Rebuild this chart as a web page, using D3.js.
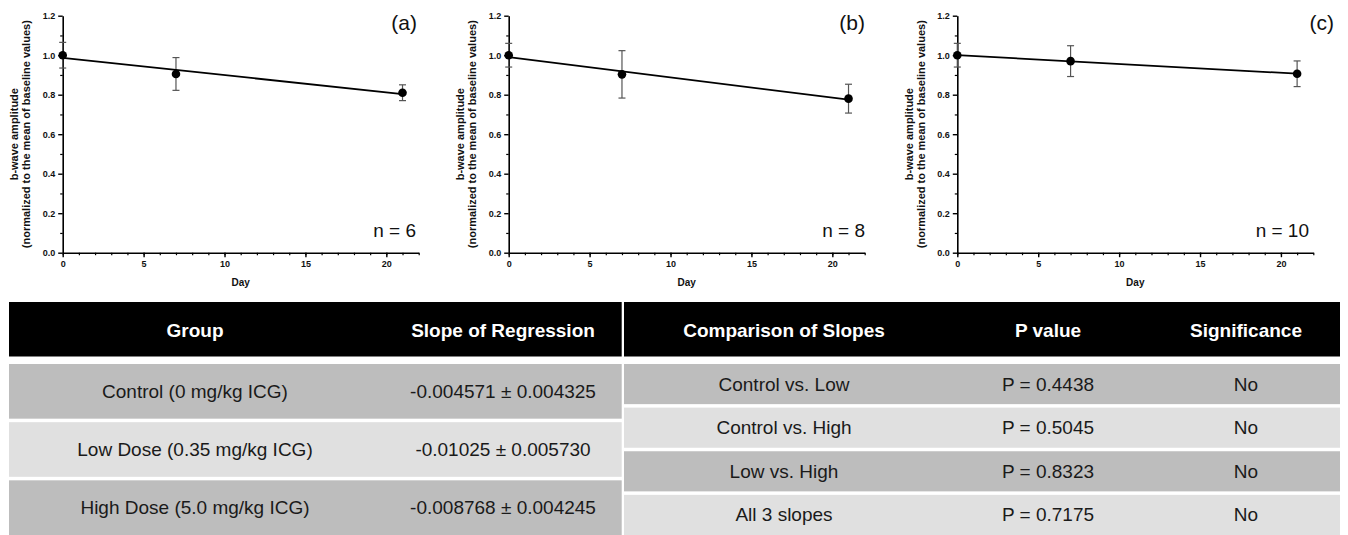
<!DOCTYPE html>
<html>
<head>
<meta charset="utf-8">
<script src="https://cdn.jsdelivr.net/npm/d3@7"></script>
<style>
  body { margin: 0; background: #fff; }
  svg { display: block; font-family: Arial, "Liberation Sans", sans-serif; }
</style>
</head>
<body>
<div id="figure"></div>
<script>
// b-wave amplitude over time, three dose groups + summary tables

const days = [0, 7, 21];
const panelTags = ["(a)", "(b)", "(c)"];
const sampleSizes = ["n = 6", "n = 8", "n = 10"];

const meanA = [1.000, 0.905, 0.810];
const errA = [0.065, 0.083, 0.040];
const meanB = [1.000, 0.903, 0.780];
const errB = [0.060, 0.120, 0.073];
const meanC = [1.000, 0.970, 0.906];
const errC = [0.060, 0.078, 0.065];

const xTicks = [0, 5, 10, 15, 20];
const yTicks = [0, 0.2, 0.4, 0.6, 0.8, 1.0, 1.2];
const xMax = 22;
const yMax = 1.2;

const leftHeaders = ["Group", "Slope of Regression"];
const groupNames = ["Control (0 mg/kg ICG)", "Low Dose (0.35 mg/kg ICG)", "High Dose (5.0 mg/kg ICG)"];
const slopeTexts = ["-0.004571 \u00b1 0.004325", "-0.01025 \u00b1 0.005730", "-0.008768 \u00b1 0.004245"];

const rightHeaders = ["Comparison of Slopes", "P value", "Significance"];
const comparisons = ["Control vs. Low", "Control vs. High", "Low vs. High", "All 3 slopes"];
const pValues = ["P = 0.4438", "P = 0.5045", "P = 0.8323", "P = 0.7175"];
const significance = ["No", "No", "No", "No"];

const series = [
    { mean: meanA, err: errA },
    { mean: meanB, err: errB },
    { mean: meanC, err: errC }
];

// panel placement (absolute px)
const panels = [
    { left: 62.7, tagX: 417, nX: 416 },
    { left: 508.7, tagX: 865, nX: 865 },
    { left: 957.3, tagX: 1334, nX: 1309 }
];
const plotTop = 15.7;
const plotW = 356;
const plotH = 237;

const svg = d3.select("#figure")
    .append("svg")
    .attr("width", 1348)
    .attr("height", 535);

function linearFit(xs, ys) {
    const mx = d3.mean(xs), my = d3.mean(ys);
    let sxy = 0, sxx = 0;
    xs.forEach((xv, i) => {
        sxy += (xv - mx) * (ys[i] - my);
        sxx += (xv - mx) * (xv - mx);
    });
    const slope = sxy / sxx;
    return { slope, intercept: my - slope * mx };
}

panels.forEach((p, i) => {
    const g = svg.append("g")
        .attr("transform", `translate(${p.left},${plotTop})`);

    const x = d3.scaleLinear().domain([0, xMax]).range([0, plotW]);
    const y = d3.scaleLinear().domain([0, yMax]).range([plotH, 0]);

    // minor ticks
    g.append("g")
        .attr("transform", `translate(0,${plotH})`)
        .call(d3.axisBottom(x).tickValues(d3.range(0, xMax + 1)).tickSize(2.5).tickSizeOuter(0).tickFormat(""))
        .call(a => a.select(".domain").remove())
        .selectAll("line").attr("stroke-width", 1.2);

    g.append("g")
        .call(d3.axisLeft(y).tickValues(d3.range(0.1, yMax, 0.2)).tickSize(2.5).tickSizeOuter(0).tickFormat(""))
        .call(a => a.select(".domain").remove())
        .selectAll("line").attr("stroke-width", 1.2);

    // major axes
    const xAxis = g.append("g")
        .attr("transform", `translate(0,${plotH})`)
        .call(d3.axisBottom(x).tickValues(xTicks).tickSize(4.5).tickSizeOuter(0).tickPadding(3).tickFormat(d3.format("d")));

    const yAxis = g.append("g")
        .call(d3.axisLeft(y).tickValues(yTicks).tickSize(4.5).tickSizeOuter(0).tickPadding(3).tickFormat(d3.format(".1f")));

    [xAxis, yAxis].forEach(a => {
        a.attr("font-family", null).attr("font-size", null);
        a.select(".domain").attr("stroke-width", 1.6);
        a.selectAll(".tick line").attr("stroke-width", 1.4);
        a.selectAll("text")
            .attr("font-size", "9px")
            .attr("font-weight", "bold")
            .attr("fill", "#111");
    });

    // axis titles
    const yLabel = g.append("text")
        .attr("transform", `translate(0,${plotH / 2}) rotate(-90)`)
        .attr("text-anchor", "middle")
        .attr("font-size", "11px")
        .attr("font-weight", "bold")
        .attr("fill", "#111");
    yLabel.append("tspan").attr("x", 0).attr("y", -48.7)
        .attr("dominant-baseline", "central").text("b-wave amplitude");
    yLabel.append("tspan").attr("x", 0).attr("y", -36.7)
        .attr("dominant-baseline", "central").text("(normalized to the mean of baseline values)");

    g.append("text")
        .attr("x", plotW / 2)
        .attr("y", 267.3)
        .attr("text-anchor", "middle")
        .attr("dominant-baseline", "central")
        .attr("font-size", "10px")
        .attr("font-weight", "bold")
        .attr("fill", "#111")
        .text("Day");

    const s = series[i];

    // error bars
    const eb = g.append("g").attr("stroke", "#555").attr("stroke-width", 1.2);
    days.forEach((d, j) => {
        const lo = y(s.mean[j] - s.err[j]), hi = y(s.mean[j] + s.err[j]);
        eb.append("line").attr("x1", x(d)).attr("x2", x(d)).attr("y1", lo).attr("y2", hi);
        eb.append("line").attr("x1", x(d) - 3.5).attr("x2", x(d) + 3.5).attr("y1", lo).attr("y2", lo);
        eb.append("line").attr("x1", x(d) - 3.5).attr("x2", x(d) + 3.5).attr("y1", hi).attr("y2", hi);
    });

    // regression line
    const fit = linearFit(days, s.mean);
    const ends = [days[0], days[days.length - 1]];
    g.append("path")
        .datum(ends)
        .attr("fill", "none")
        .attr("stroke", "#000")
        .attr("stroke-width", 1.8)
        .attr("d", d3.line().x(d => x(d)).y(d => y(fit.intercept + fit.slope * d)));

    // means
    g.selectAll("circle.pt")
        .data(days)
        .join("circle")
        .attr("class", "pt")
        .attr("cx", d => x(d))
        .attr("cy", (d, j) => y(s.mean[j]))
        .attr("r", 4.3)
        .attr("fill", "#000");

    // labels
    svg.append("text")
        .attr("x", p.tagX)
        .attr("y", 30)
        .attr("text-anchor", "end")
        .attr("font-size", "21px")
        .attr("fill", "#111")
        .text(panelTags[i]);

    svg.append("text")
        .attr("x", p.nX)
        .attr("y", 237)
        .attr("text-anchor", "end")
        .attr("font-size", "19px")
        .attr("fill", "#111")
        .text(sampleSizes[i]);
});

// Tables
const rowFills = ["#bdbdbd", "#e0e0e0"];

function drawTable(x0, x1, headers, columns, centers) {
    const t = svg.append("g");
    t.append("rect")
        .attr("x", x0).attr("y", 302)
        .attr("width", x1 - x0).attr("height", 54.5)
        .attr("fill", "#000");

    t.selectAll("text.hd")
        .data(headers)
        .join("text")
        .attr("class", "hd")
        .attr("x", (d, i) => centers[i])
        .attr("y", 330)
        .attr("text-anchor", "middle")
        .attr("dominant-baseline", "central")
        .attr("font-size", "19px")
        .attr("font-weight", "bold")
        .attr("fill", "#fff")
        .text(d => d);

    const nRows = columns[0].length;
    const band = d3.scaleBand()
        .domain(d3.range(nRows))
        .range([364, 535])
        .paddingInner(nRows === 3 ? 0.06 : 0.08);

    band.domain().forEach(r => {
        t.append("rect")
            .attr("x", x0).attr("y", band(r))
            .attr("width", x1 - x0).attr("height", band.bandwidth())
            .attr("fill", rowFills[r % 2]);
        columns.forEach((col, c) => {
            t.append("text")
                .attr("x", centers[c])
                .attr("y", band(r) + band.bandwidth() / 2)
                .attr("text-anchor", "middle")
                .attr("dominant-baseline", "central")
                .attr("font-size", "19px")
                .attr("fill", "#1a1a1a")
                .text(col[r]);
        });
    });
}

drawTable(9, 621.7, leftHeaders, [groupNames, slopeTexts], [195, 503]);
drawTable(624, 1340, rightHeaders, [comparisons, pValues, significance], [784, 1048, 1246]);
</script>
</body>
</html>
